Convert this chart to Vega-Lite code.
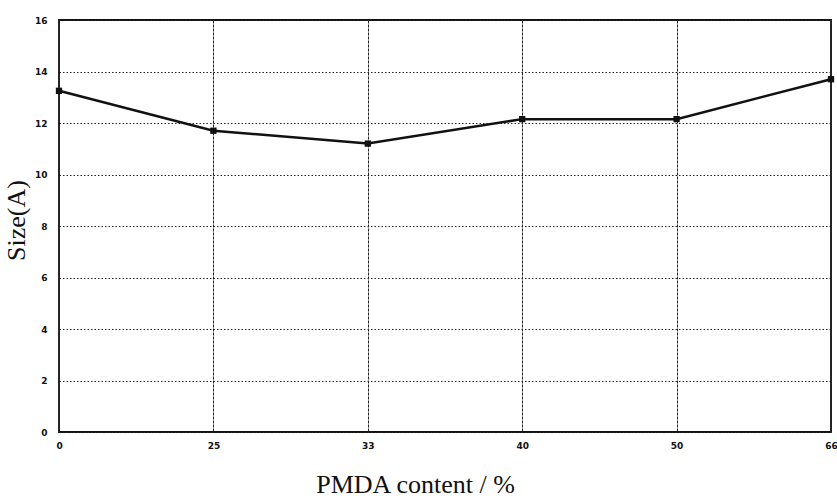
{
  "$schema": "https://vega.github.io/schema/vega-lite/v6.json",
  "width": 772,
  "height": 412,
  "autosize": {"type": "none"},
  "padding": {"left": 59, "top": 20, "right": 6, "bottom": 68},
  "background": "white",
  "config": {
    "view": {"stroke": "#111", "strokeWidth": 1.8},
    "axis": {"labelFont": "DejaVu Sans", "labelFontWeight": "bold", "labelFontSize": 9, "labelColor": "#111", "domain": false, "ticks": false, "titleFont": "Liberation Serif", "titleFontWeight": "normal", "titleFontSize": 26, "titleColor": "#111"}
  },
  "data": {"values": [
    {"pmda": "0", "size": 13.25},
    {"pmda": "25", "size": 11.7},
    {"pmda": "33", "size": 11.2},
    {"pmda": "40", "size": 12.15},
    {"pmda": "50", "size": 12.15},
    {"pmda": "66", "size": 13.7}
  ]},
  "layer": [
    {
      "mark": {"type": "line", "color": "#111", "strokeWidth": 2.5},
      "encoding": {
        "x": {"field": "pmda", "type": "ordinal", "sort": null, "scale": {"type": "point", "padding": 0},
          "axis": {"labelAngle": 0, "labelPadding": 9, "title": "PMDA content / %", "titlePadding": 21, "titleX": 356, "grid": true, "gridColor": "#222", "gridWidth": 1, "gridDash": [3, 1]}},
        "y": {"field": "size", "type": "quantitative", "scale": {"domain": [0, 16]},
          "axis": {"values": [0, 2, 4, 6, 8, 10, 12, 14, 16], "labelPadding": 12, "title": "Size(A)", "titlePadding": 5, "titleY": 200, "grid": true, "gridColor": "#222", "gridWidth": 1.2, "gridDash": [1.5, 2]}}
      }
    },
    {
      "mark": {"type": "point", "shape": "square", "filled": true, "color": "#111", "size": 40, "opacity": 1},
      "encoding": {
        "x": {"field": "pmda", "type": "ordinal", "sort": null},
        "y": {"field": "size", "type": "quantitative"}
      }
    }
  ]
}
